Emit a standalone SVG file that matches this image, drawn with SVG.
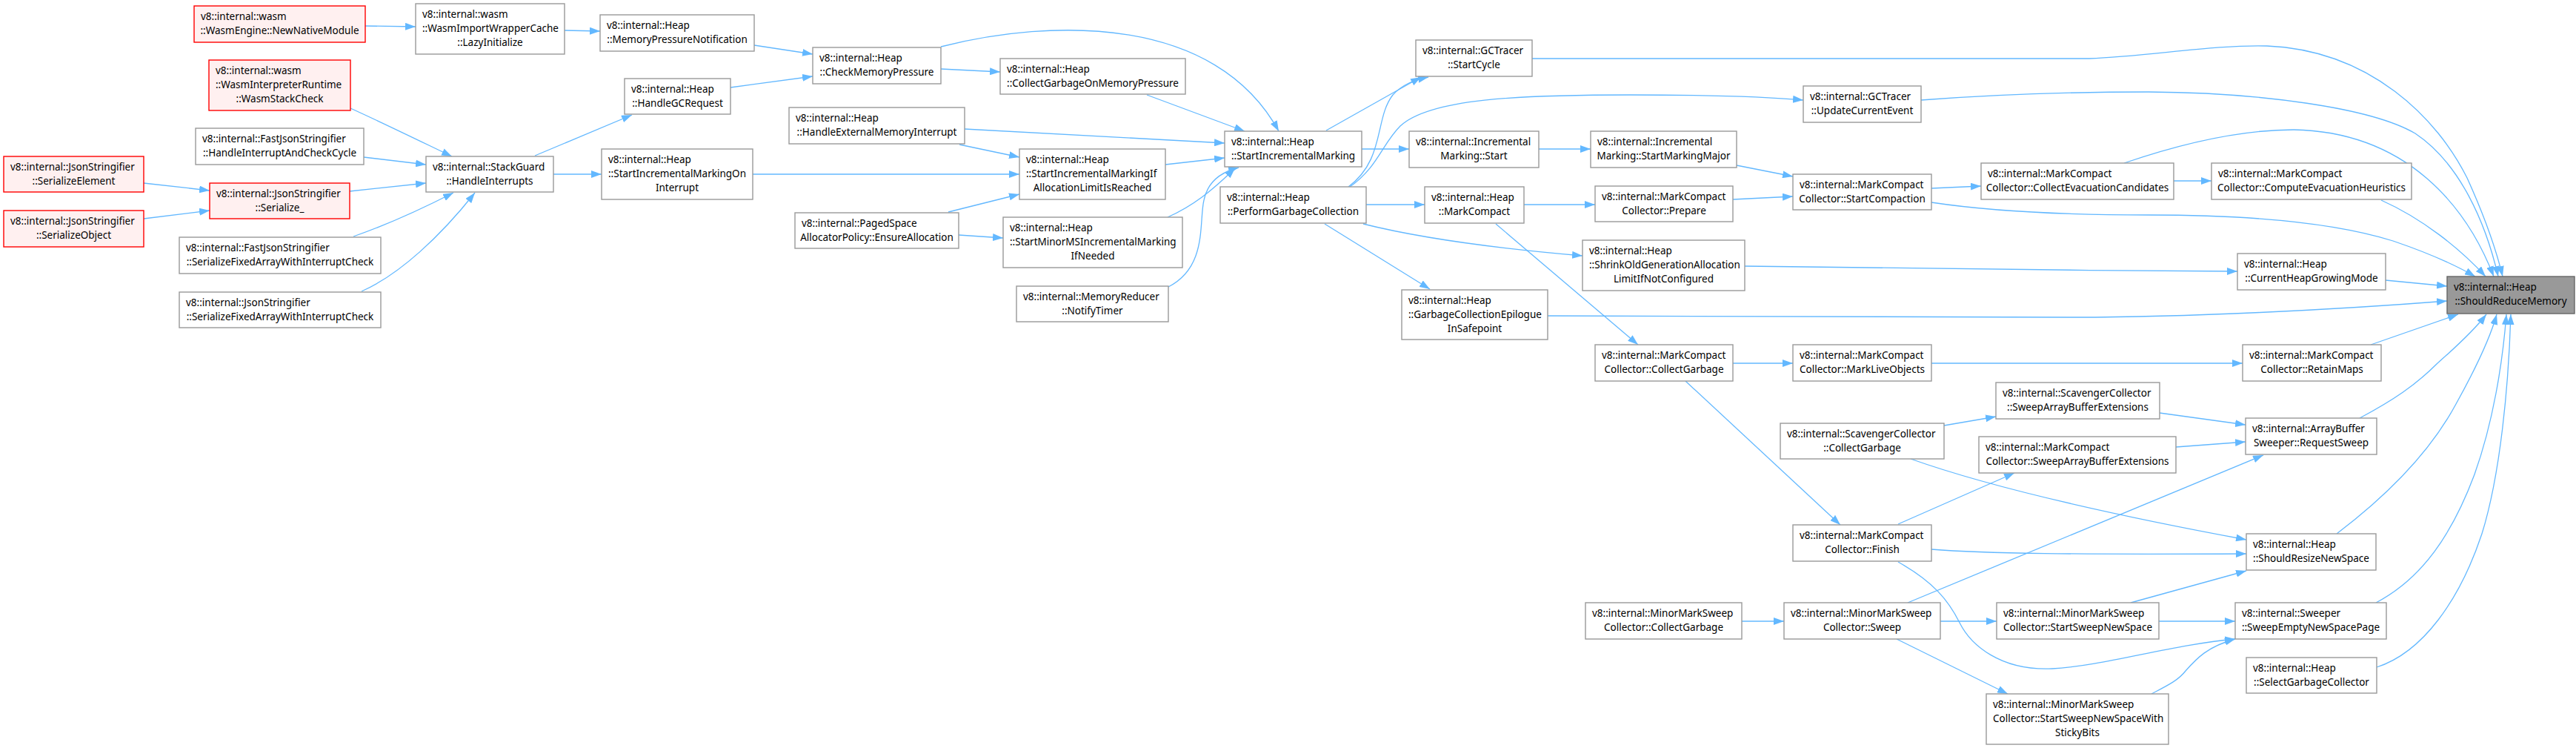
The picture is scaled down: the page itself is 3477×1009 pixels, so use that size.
<svg xmlns="http://www.w3.org/2000/svg" width="3477" height="1009" viewBox="0 0 3477 1009">
<style>
.n rect{fill:#fff;stroke:#999;stroke-width:1.4}
.n.red rect{fill:#fff0f0;stroke:#f00}
.n.root rect{fill:#999;stroke:#666}
.n text{font-family:"Noto Sans","Open Sans",sans-serif;font-size:13.5px;fill:#000}
.n text.c{text-anchor:middle}
.e path{fill:none;stroke:#63b8ff;stroke-width:1.3}
</style>
<defs>
<marker id="arr" markerUnits="userSpaceOnUse" markerWidth="14" markerHeight="10" refX="14" refY="5" orient="auto"><path d="M0,0 L14,5 L0,10 z" fill="#63b8ff" stroke="none"/></marker>
</defs>
<rect x="0" y="0" width="3477" height="1009" fill="#fff"/>
<g id="connectors" class="e" marker-end="url(#arr)">
<path marker-end="url(#arr)" d="M493,35 L561,36"/>
<path marker-end="url(#arr)" d="M473,146 C515,165 560,187 610,211"/>
<path marker-end="url(#arr)" d="M491,212 L575,222"/>
<path marker-end="url(#arr)" d="M472,258 L575,247"/>
<path marker-end="url(#arr)" d="M194,247 L283,257"/>
<path marker-end="url(#arr)" d="M194,295 L283,284"/>
<path marker-end="url(#arr)" d="M477,319 C520,304 565,284 612,260"/>
<path marker-end="url(#arr)" d="M488,393 C540,370 595,318 641,260"/>
<path marker-end="url(#arr)" d="M762,41 L810,42"/>
<path marker-end="url(#arr)" d="M1018,61 L1097,73"/>
<path marker-end="url(#arr)" d="M986,118 L1097,103"/>
<path marker-end="url(#arr)" d="M722,210 L853,155"/>
<path marker-end="url(#arr)" d="M747,235 L812,235"/>
<path marker-end="url(#arr)" d="M1016,235 L1376,235"/>
<path marker-end="url(#arr)" d="M1270,63 C1420,25 1640,20 1726,177"/>
<path marker-end="url(#arr)" d="M1270,93 L1350,97"/>
<path marker-end="url(#arr)" d="M1548,128 L1680,177"/>
<path marker-end="url(#arr)" d="M1302,174 L1653,193"/>
<path marker-end="url(#arr)" d="M1295,195 L1376,212"/>
<path marker-end="url(#arr)" d="M1280,286 L1376,262"/>
<path marker-end="url(#arr)" d="M1294,317 L1354,321"/>
<path marker-end="url(#arr)" d="M1573,222 L1653,213"/>
<path marker-end="url(#arr)" d="M1576,293 C1610,278 1635,258 1667,227"/>
<path marker-end="url(#arr)" d="M1577,387 C1630,360 1618,300 1625,270 C1630,245 1648,232 1672,226"/>
<path marker-end="url(#arr)" d="M1790,176 L1918,104"/>
<path marker-end="url(#arr)" d="M1820,252 C1870,215 1855,160 1880,128 C1893,114 1908,108 1928,104"/>
<path marker-end="url(#arr)" d="M1822,252 C1860,225 1865,195 1890,170 C1930,133 2050,128 2200,128 C2320,128 2400,132 2434,135"/>
<path marker-end="url(#arr)" d="M1838,201 L1902,201"/>
<path marker-end="url(#arr)" d="M2077,201 L2147,201"/>
<path marker-end="url(#arr)" d="M1844,276 L1923,276"/>
<path marker-end="url(#arr)" d="M2057,276 L2153,276"/>
<path marker-end="url(#arr)" d="M1840,302 C1920,322 2030,336 2136,345"/>
<path marker-end="url(#arr)" d="M1788,302 L1930,390"/>
<path marker-end="url(#arr)" d="M2019,302 L2211,465"/>
<path marker-end="url(#arr)" d="M2068,79 L2820,79 C2900,76 2990,60 3060,62 C3200,68 3290,160 3330,240 C3355,295 3370,340 3378,373"/>
<path marker-end="url(#arr)" d="M2593,135 C2700,127 2800,124 2900,124 C3050,125 3200,145 3260,180 C3320,220 3355,300 3372,373"/>
<path marker-end="url(#arr)" d="M2867,220 C2940,195 3020,175 3096,175 C3250,178 3330,280 3366,373"/>
<path marker-end="url(#arr)" d="M2607,273 C2680,284 2780,290 2900,290 C3040,290 3150,300 3230,325 C3280,342 3315,358 3341,373"/>
<path marker-end="url(#arr)" d="M3214,270 C3270,295 3320,335 3355,373"/>
<path marker-end="url(#arr)" d="M2934,244 L2985,244"/>
<path marker-end="url(#arr)" d="M2344,223 L2420,238"/>
<path marker-end="url(#arr)" d="M2339,269 L2420,265"/>
<path marker-end="url(#arr)" d="M2607,254 L2674,251"/>
<path marker-end="url(#arr)" d="M2355,359 C2600,362 2800,365 3020,366"/>
<path marker-end="url(#arr)" d="M2089,426 L2800,428 C2950,428 3150,418 3303,406"/>
<path marker-end="url(#arr)" d="M3220,378 L3303,386"/>
<path marker-end="url(#arr)" d="M2339,490 L2420,490"/>
<path marker-end="url(#arr)" d="M2607,490 L3027,490"/>
<path marker-end="url(#arr)" d="M3200,465 L3318,424"/>
<path marker-end="url(#arr)" d="M2275,514 L2484,708"/>
<path marker-end="url(#arr)" d="M2624,574 L2694,562"/>
<path marker-end="url(#arr)" d="M2579,619 C2700,662 2870,698 3032,728"/>
<path marker-end="url(#arr)" d="M2562,707 L2719,638"/>
<path marker-end="url(#arr)" d="M2607,741 C2680,747 2800,748 3032,747"/>
<path marker-end="url(#arr)" d="M2562,758 C2610,785 2630,810 2645,840 C2660,870 2700,905 2770,902 C2840,898 2930,870 3017,862"/>
<path marker-end="url(#arr)" d="M2575,813 L3055,614"/>
<path marker-end="url(#arr)" d="M2619,838 L2695,838"/>
<path marker-end="url(#arr)" d="M2560,862 L2710,936"/>
<path marker-end="url(#arr)" d="M2351,838 L2408,838"/>
<path marker-end="url(#arr)" d="M2915,557 L3031,573"/>
<path marker-end="url(#arr)" d="M2937,603 L3031,596"/>
<path marker-end="url(#arr)" d="M2876,813 L3032,770"/>
<path marker-end="url(#arr)" d="M2914,838 L3017,838"/>
<path marker-end="url(#arr)" d="M2904,936 C2925,925 2940,918 2950,905 C2965,888 2980,872 3017,862"/>
<path marker-end="url(#arr)" d="M3185,564 C3230,540 3260,520 3290,490 C3315,468 3340,445 3356,424"/>
<path marker-end="url(#arr)" d="M3154,720 C3220,670 3280,610 3315,545 C3340,500 3360,460 3370,424"/>
<path marker-end="url(#arr)" d="M3207,813 C3270,780 3310,720 3340,640 C3365,570 3378,490 3383,424"/>
<path marker-end="url(#arr)" d="M3208,900 C3270,880 3320,810 3350,720 C3375,640 3386,520 3389,424"/>
</g>
<g id="n_NewNativeModule" class="n red"><rect x="262" y="8" width="231" height="49"/><text x="271" y="26.5">v8::internal::wasm</text><text class="c" x="377.5" y="45.5">::WasmEngine::NewNativeModule</text></g>
<g id="n_WasmStackCheck" class="n red"><rect x="282" y="81" width="191" height="68"/><text x="291" y="99.5">v8::internal::wasm</text><text x="291" y="118.5">::WasmInterpreterRuntime</text><text class="c" x="377.5" y="137.5">::WasmStackCheck</text></g>
<g id="n_HandleInterruptAndCheckCycle" class="n"><rect x="264" y="173" width="227" height="49"/><text x="273" y="191.5">v8::internal::FastJsonStringifier</text><text class="c" x="377.5" y="210.5">::HandleInterruptAndCheckCycle</text></g>
<g id="n_SerializeElement" class="n red"><rect x="5" y="211" width="189" height="48"/><text x="14" y="229.5">v8::internal::JsonStringifier</text><text class="c" x="99.5" y="248.5">::SerializeElement</text></g>
<g id="n_SerializeObject" class="n red"><rect x="5" y="284" width="189" height="49"/><text x="14" y="302.5">v8::internal::JsonStringifier</text><text class="c" x="99.5" y="321.5">::SerializeObject</text></g>
<g id="n_Serialize_" class="n red"><rect x="283" y="247" width="189" height="48"/><text x="292" y="265.5">v8::internal::JsonStringifier</text><text class="c" x="377.5" y="284.5">::Serialize_</text></g>
<g id="n_FastSerializeFixedArray" class="n"><rect x="242" y="320" width="272" height="49"/><text x="251" y="338.5">v8::internal::FastJsonStringifier</text><text class="c" x="378" y="357.5">::SerializeFixedArrayWithInterruptCheck</text></g>
<g id="n_JsonSerializeFixedArray" class="n"><rect x="242" y="394" width="272" height="48"/><text x="251" y="412.5">v8::internal::JsonStringifier</text><text class="c" x="378" y="431.5">::SerializeFixedArrayWithInterruptCheck</text></g>
<g id="n_LazyInitialize" class="n"><rect x="561" y="5" width="201" height="68"/><text x="570" y="23.5">v8::internal::wasm</text><text x="570" y="42.5">::WasmImportWrapperCache</text><text class="c" x="661.5" y="61.5">::LazyInitialize</text></g>
<g id="n_HandleInterrupts" class="n"><rect x="575" y="211" width="172" height="48"/><text x="584" y="229.5">v8::internal::StackGuard</text><text class="c" x="661" y="248.5">::HandleInterrupts</text></g>
<g id="n_MemoryPressureNotification" class="n"><rect x="810" y="20" width="208" height="49"/><text x="819" y="38.5">v8::internal::Heap</text><text class="c" x="914" y="57.5">::MemoryPressureNotification</text></g>
<g id="n_HandleGCRequest" class="n"><rect x="843" y="106" width="143" height="48"/><text x="852" y="124.5">v8::internal::Heap</text><text class="c" x="914.5" y="143.5">::HandleGCRequest</text></g>
<g id="n_StartIncrementalMarkingOnInterrupt" class="n"><rect x="812" y="201" width="204" height="68"/><text x="821" y="219.5">v8::internal::Heap</text><text x="821" y="238.5">::StartIncrementalMarkingOn</text><text class="c" x="914" y="257.5">Interrupt</text></g>
<g id="n_CheckMemoryPressure" class="n"><rect x="1097" y="64" width="173" height="49"/><text x="1106" y="82.5">v8::internal::Heap</text><text class="c" x="1183.5" y="101.5">::CheckMemoryPressure</text></g>
<g id="n_HandleExternalMemoryInterrupt" class="n"><rect x="1065" y="145" width="237" height="49"/><text x="1074" y="163.5">v8::internal::Heap</text><text class="c" x="1183.5" y="182.5">::HandleExternalMemoryInterrupt</text></g>
<g id="n_EnsureAllocation" class="n"><rect x="1073" y="287" width="221" height="48"/><text x="1082" y="305.5">v8::internal::PagedSpace</text><text class="c" x="1183.5" y="324.5">AllocatorPolicy::EnsureAllocation</text></g>
<g id="n_CollectGarbageOnMemoryPressure" class="n"><rect x="1350" y="79" width="250" height="48"/><text x="1359" y="97.5">v8::internal::Heap</text><text class="c" x="1475" y="116.5">::CollectGarbageOnMemoryPressure</text></g>
<g id="n_StartIncrementalMarkingIfAllocationLimitIsReached" class="n"><rect x="1376" y="201" width="197" height="68"/><text x="1385" y="219.5">v8::internal::Heap</text><text x="1385" y="238.5">::StartIncrementalMarkingIf</text><text class="c" x="1474.5" y="257.5">AllocationLimitIsReached</text></g>
<g id="n_StartMinorMSIncrementalMarkingIfNeeded" class="n"><rect x="1354" y="293" width="242" height="68"/><text x="1363" y="311.5">v8::internal::Heap</text><text x="1363" y="330.5">::StartMinorMSIncrementalMarking</text><text class="c" x="1475" y="349.5">IfNeeded</text></g>
<g id="n_NotifyTimer" class="n"><rect x="1372" y="386" width="205" height="48"/><text x="1381" y="404.5">v8::internal::MemoryReducer</text><text class="c" x="1474.5" y="423.5">::NotifyTimer</text></g>
<g id="n_StartIncrementalMarking" class="n"><rect x="1653" y="177" width="185" height="48"/><text x="1662" y="195.5">v8::internal::Heap</text><text class="c" x="1745.5" y="214.5">::StartIncrementalMarking</text></g>
<g id="n_PerformGarbageCollection" class="n"><rect x="1647" y="252" width="197" height="49"/><text x="1656" y="270.5">v8::internal::Heap</text><text class="c" x="1745.5" y="289.5">::PerformGarbageCollection</text></g>
<g id="n_StartCycle" class="n"><rect x="1911" y="54" width="157" height="49"/><text x="1920" y="72.5">v8::internal::GCTracer</text><text class="c" x="1989.5" y="91.5">::StartCycle</text></g>
<g id="n_IncrementalMarkingStart" class="n"><rect x="1902" y="177" width="175" height="49"/><text x="1911" y="195.5">v8::internal::Incremental</text><text class="c" x="1989.5" y="214.5">Marking::Start</text></g>
<g id="n_MarkCompact" class="n"><rect x="1923" y="252" width="134" height="49"/><text x="1932" y="270.5">v8::internal::Heap</text><text class="c" x="1990" y="289.5">::MarkCompact</text></g>
<g id="n_GarbageCollectionEpilogueInSafepoint" class="n"><rect x="1892" y="391" width="197" height="67"/><text x="1901" y="409.5">v8::internal::Heap</text><text x="1901" y="428.5">::GarbageCollectionEpilogue</text><text class="c" x="1990.5" y="447.5">InSafepoint</text></g>
<g id="n_StartMarkingMajor" class="n"><rect x="2147" y="177" width="197" height="49"/><text x="2156" y="195.5">v8::internal::Incremental</text><text class="c" x="2245.5" y="214.5">Marking::StartMarkingMajor</text></g>
<g id="n_Prepare" class="n"><rect x="2153" y="251" width="186" height="48"/><text x="2162" y="269.5">v8::internal::MarkCompact</text><text class="c" x="2246" y="288.5">Collector::Prepare</text></g>
<g id="n_ShrinkOldGenerationAllocationLimitIfNotConfigured" class="n"><rect x="2136" y="324" width="219" height="68"/><text x="2145" y="342.5">v8::internal::Heap</text><text x="2145" y="361.5">::ShrinkOldGenerationAllocation</text><text class="c" x="2245.5" y="380.5">LimitIfNotConfigured</text></g>
<g id="n_MarkCompactCollectGarbage" class="n"><rect x="2153" y="465" width="186" height="49"/><text x="2162" y="483.5">v8::internal::MarkCompact</text><text class="c" x="2246" y="502.5">Collector::CollectGarbage</text></g>
<g id="n_UpdateCurrentEvent" class="n"><rect x="2434" y="116" width="159" height="49"/><text x="2443" y="134.5">v8::internal::GCTracer</text><text class="c" x="2513.5" y="153.5">::UpdateCurrentEvent</text></g>
<g id="n_StartCompaction" class="n"><rect x="2420" y="235" width="187" height="48"/><text x="2429" y="253.5">v8::internal::MarkCompact</text><text class="c" x="2513.5" y="272.5">Collector::StartCompaction</text></g>
<g id="n_MarkLiveObjects" class="n"><rect x="2420" y="465" width="187" height="49"/><text x="2429" y="483.5">v8::internal::MarkCompact</text><text class="c" x="2513.5" y="502.5">Collector::MarkLiveObjects</text></g>
<g id="n_CollectEvacuationCandidates" class="n"><rect x="2674" y="220" width="260" height="49"/><text x="2683" y="238.5">v8::internal::MarkCompact</text><text class="c" x="2804" y="257.5">Collector::CollectEvacuationCandidates</text></g>
<g id="n_ComputeEvacuationHeuristics" class="n"><rect x="2985" y="220" width="270" height="49"/><text x="2994" y="238.5">v8::internal::MarkCompact</text><text class="c" x="3120" y="257.5">Collector::ComputeEvacuationHeuristics</text></g>
<g id="n_CurrentHeapGrowingMode" class="n"><rect x="3020" y="342" width="200" height="49"/><text x="3029" y="360.5">v8::internal::Heap</text><text class="c" x="3120" y="379.5">::CurrentHeapGrowingMode</text></g>
<g id="n_ShouldReduceMemory" class="n root"><rect x="3303" y="373" width="172" height="50"/><text x="3312" y="391.5">v8::internal::Heap</text><text class="c" x="3389" y="410.5">::ShouldReduceMemory</text></g>
<g id="n_RetainMaps" class="n"><rect x="3027" y="465" width="187" height="49"/><text x="3036" y="483.5">v8::internal::MarkCompact</text><text class="c" x="3120.5" y="502.5">Collector::RetainMaps</text></g>
<g id="n_ScavengerSweepArrayBufferExtensions" class="n"><rect x="2694" y="516" width="221" height="49"/><text x="2703" y="534.5">v8::internal::ScavengerCollector</text><text class="c" x="2804.5" y="553.5">::SweepArrayBufferExtensions</text></g>
<g id="n_ScavengerCollectGarbage" class="n"><rect x="2403" y="571" width="221" height="48"/><text x="2412" y="589.5">v8::internal::ScavengerCollector</text><text class="c" x="2513.5" y="608.5">::CollectGarbage</text></g>
<g id="n_MarkCompactSweepArrayBufferExtensions" class="n"><rect x="2671" y="589" width="266" height="49"/><text x="2680" y="607.5">v8::internal::MarkCompact</text><text class="c" x="2804" y="626.5">Collector::SweepArrayBufferExtensions</text></g>
<g id="n_Finish" class="n"><rect x="2420" y="708" width="187" height="49"/><text x="2429" y="726.5">v8::internal::MarkCompact</text><text class="c" x="2513.5" y="745.5">Collector::Finish</text></g>
<g id="n_MinorMarkSweepSweep" class="n"><rect x="2408" y="813" width="211" height="49"/><text x="2417" y="831.5">v8::internal::MinorMarkSweep</text><text class="c" x="2513.5" y="850.5">Collector::Sweep</text></g>
<g id="n_StartSweepNewSpace" class="n"><rect x="2695" y="813" width="219" height="49"/><text x="2704" y="831.5">v8::internal::MinorMarkSweep</text><text class="c" x="2804.5" y="850.5">Collector::StartSweepNewSpace</text></g>
<g id="n_StartSweepNewSpaceWithStickyBits" class="n"><rect x="2681" y="936" width="246" height="68"/><text x="2690" y="954.5">v8::internal::MinorMarkSweep</text><text x="2690" y="973.5">Collector::StartSweepNewSpaceWith</text><text class="c" x="2804" y="992.5">StickyBits</text></g>
<g id="n_MinorMarkSweepCollectGarbage" class="n"><rect x="2140" y="813" width="211" height="49"/><text x="2149" y="831.5">v8::internal::MinorMarkSweep</text><text class="c" x="2245.5" y="850.5">Collector::CollectGarbage</text></g>
<g id="n_RequestSweep" class="n"><rect x="3031" y="564" width="177" height="49"/><text x="3040" y="582.5">v8::internal::ArrayBuffer</text><text class="c" x="3119.5" y="601.5">Sweeper::RequestSweep</text></g>
<g id="n_ShouldResizeNewSpace" class="n"><rect x="3032" y="720" width="175" height="49"/><text x="3041" y="738.5">v8::internal::Heap</text><text class="c" x="3119.5" y="757.5">::ShouldResizeNewSpace</text></g>
<g id="n_SweepEmptyNewSpacePage" class="n"><rect x="3017" y="813" width="204" height="49"/><text x="3026" y="831.5">v8::internal::Sweeper</text><text class="c" x="3119" y="850.5">::SweepEmptyNewSpacePage</text></g>
<g id="n_SelectGarbageCollector" class="n"><rect x="3032" y="887" width="176" height="48"/><text x="3041" y="905.5">v8::internal::Heap</text><text class="c" x="3120" y="924.5">::SelectGarbageCollector</text></g>
</svg>
